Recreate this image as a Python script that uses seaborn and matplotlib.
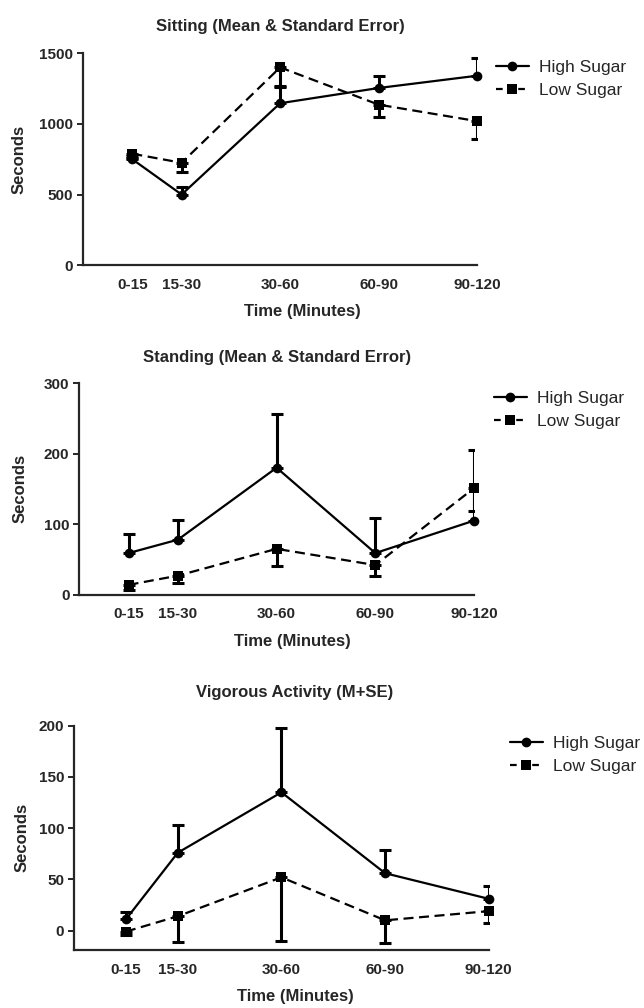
import matplotlib
matplotlib.use("Agg")
import matplotlib.pyplot as plt
from matplotlib.lines import Line2D
import pandas as pd
import seaborn as sns

# --- data ---
time_labels = ["0-15", "15-30", "30-60", "60-90", "90-120"]
time_end = [15, 30, 60, 90, 120]
groups = ["High Sugar", "Low Sugar"]

# Sitting: mean & SE (high bars drawn up, low bars drawn down)
sit_high = [750, 500, 1147, 1255, 1342]
sit_high_se = [25, 57, 118, 87, 125]
sit_low = [789, 725, 1401, 1137, 1020]
sit_low_se = [30, 66, 131, 85, 125]

# Standing
stand_high = [59, 78, 180, 59, 105]
stand_high_se = [27, 28, 76, 50, 100]
stand_low = [14, 27, 65, 42, 151]
stand_low_se = [7, 10, 25, 16, 33]

# Vigorous activity
vig_high = [11, 76, 135, 56, 31]
vig_high_se = [7, 27, 63, 23, 13]
vig_low = [-1, 14, 52, 10, 19]
vig_low_se = [3, 25, 62, 22, 12]

sns.set_style("ticks")
FONT = ["Liberation Sans", "DejaVu Sans"]
plt.rcParams["font.family"] = FONT

fig = plt.figure(figsize=(6.44, 10.08), dpi=100)

panels = [
    dict(title="Sitting (Mean & Standard Error)", high=sit_high, high_se=sit_high_se,
         low=sit_low, low_se=sit_low_se, ylim=(0, 1500), yticks=[0, 500, 1000, 1500],
         rect=[0.129, 0.737, 0.612, 0.210], title_pad=16, title_x=0.5, xlab_x=0.556,
         leg=(496, 79), ypad=9),
    dict(title="Standing (Mean & Standard Error)", high=stand_high, high_se=stand_high_se,
         low=stand_low, low_se=stand_low_se, ylim=(0, 300), yticks=[0, 100, 200, 300],
         rect=[0.123, 0.410, 0.613, 0.210], title_pad=15, title_x=0.5, xlab_x=0.54,
         leg=(494, 410), ypad=12),
    dict(title="Vigorous Activity (M+SE)", high=vig_high, high_se=vig_high_se,
         low=vig_low, low_se=vig_low_se, ylim=(-19, 200), yticks=[0, 50, 100, 150, 200],
         rect=[0.115, 0.0575, 0.644, 0.2225], title_pad=21, title_x=0.533, xlab_x=0.533,
         leg=(510, 755), ypad=7),
]

for p in panels:
    ax = fig.add_axes(p["rect"])
    df = pd.DataFrame({
        "time": time_end * 2,
        "seconds": p["high"] + p["low"],
        "group": [groups[0]] * 5 + [groups[1]] * 5,
    })
    sns.lineplot(data=df, x="time", y="seconds", hue="group", style="group",
                 palette={"High Sugar": "black", "Low Sugar": "black"},
                 markers={"High Sugar": "o", "Low Sugar": "s"},
                 dashes={"High Sugar": "", "Low Sugar": (4.5, 2.5)},
                 markersize=7, markeredgewidth=0, linewidth=1.6,
                 legend=False, ax=ax, clip_on=False, zorder=3)

    # error bars: high group upward, low group downward
    ax.errorbar(time_end, p["high"], yerr=[[0] * 5, p["high_se"]], fmt="none",
                ecolor="black", elinewidth=2.2, capsize=4, capthick=2.2, zorder=2)
    ax.errorbar(time_end, p["low"], yerr=[p["low_se"], [0] * 5], fmt="none",
                ecolor="black", elinewidth=2.2, capsize=4, capthick=2.2, zorder=2)

    ax.set_xlim(0, 120)
    ax.set_ylim(*p["ylim"])
    ax.set_xticks(time_end)
    ax.set_xticklabels(time_labels)
    ax.set_yticks(p["yticks"])
    sns.despine(ax=ax)
    for s in ["left", "bottom"]:
        ax.spines[s].set_linewidth(1.6)
    ax.tick_params(axis="x", length=0, pad=9, labelsize=11)
    ax.tick_params(axis="y", length=4, width=1.4, pad=3, labelsize=11)
    for lab in ax.get_xticklabels() + ax.get_yticklabels():
        lab.set_fontweight("bold")

    ax.set_title(p["title"], fontsize=12, fontweight="bold", pad=p["title_pad"], x=p["title_x"])
    ax.set_xlabel("Time (Minutes)", fontsize=12, fontweight="bold", labelpad=9, x=p["xlab_x"])
    ax.set_ylabel("Seconds", fontsize=12, fontweight="bold", labelpad=p["ypad"])

    handles = [
        Line2D([], [], color="black", marker="o", markersize=7, linewidth=1.6, markeredgewidth=0),
        Line2D([], [], color="black", marker="s", markersize=7, linewidth=1.6, markeredgewidth=0,
               linestyle=(0, (3, 2))),
    ]
    lx, ly = p["leg"]
    ax.legend(handles, groups, loc="center left", bbox_to_anchor=(lx / 644, 1 - ly / 1008),
              bbox_transform=fig.transFigure, frameon=False, borderpad=0, borderaxespad=0,
              handlelength=1.9, handletextpad=0.6, labelspacing=0.45,
              prop={"family": FONT, "size": 12.5})

fig.savefig("out.png", dpi=100)
